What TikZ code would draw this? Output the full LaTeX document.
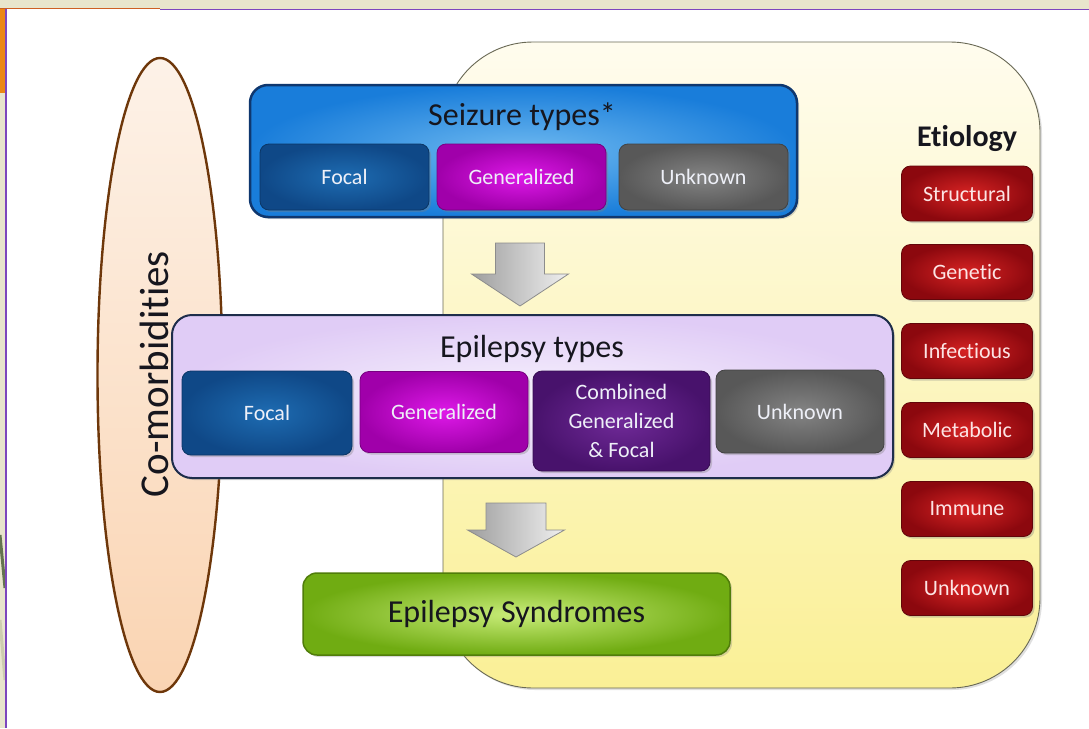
\documentclass[tikz,border=0pt]{standalone}
\usepackage{fontspec}
\setmainfont{Carlito}[Ligatures=NoCommon]
\usetikzlibrary{shapes.geometric,shadows}

% palette
\definecolor{framebar}{RGB}{232,229,204}
\definecolor{framepurple}{RGB}{125,70,190}
\definecolor{framerust}{RGB}{205,95,35}
\definecolor{frameorange}{RGB}{235,135,20}
\definecolor{streakdark}{RGB}{100,115,80}
\definecolor{streaklight}{RGB}{205,205,175}
\definecolor{paneltop}{RGB}{255,252,238}
\definecolor{panelbot}{RGB}{250,240,150}
\definecolor{panelline}{RGB}{105,105,85}
\definecolor{peachtop}{RGB}{253,242,232}
\definecolor{peachmid}{RGB}{245,188,140}
\definecolor{peachbot}{RGB}{250,212,178}
\definecolor{peachline}{RGB}{110,55,10}
\definecolor{blueout}{RGB}{25,125,218}
\definecolor{bluein}{RGB}{110,185,240}
\definecolor{blueline}{RGB}{15,55,110}
\definecolor{lavout}{RGB}{224,204,246}
\definecolor{lavin}{RGB}{247,242,253}
\definecolor{lavline}{RGB}{30,45,75}
\definecolor{focalout}{RGB}{15,72,135}
\definecolor{focalin}{RGB}{30,108,178}
\definecolor{genout}{RGB}{160,0,170}
\definecolor{genin}{RGB}{222,25,232}
\definecolor{unkout}{RGB}{88,88,88}
\definecolor{unkin}{RGB}{132,132,132}
\definecolor{combout}{RGB}{72,18,108}
\definecolor{combin}{RGB}{112,42,152}
\definecolor{redout}{RGB}{140,8,14}
\definecolor{redin}{RGB}{215,35,35}
\definecolor{greenout}{RGB}{112,172,18}
\definecolor{greenin}{RGB}{200,236,120}
\definecolor{greenline}{RGB}{80,125,10}
\definecolor{boxtext}{RGB}{238,240,248}
\definecolor{redtext}{RGB}{252,228,228}
\definecolor{inktext}{RGB}{22,22,30}

\tikzset{
  headfont/.style={font=\fontsize{32}{38}\selectfont, text=inktext},
  subbox/.style={rounded corners=9pt, inner sep=0pt, align=center,
    font=\fontsize{22}{29}\selectfont, text=boxtext, line width=0.8pt,
    drop shadow={opacity=0.35, shadow xshift=2pt, shadow yshift=-2pt}},
  focalbox/.style={subbox, inner color=focalin, outer color=focalout, draw=focalout!75!black},
  genbox/.style={subbox, inner color=genin, outer color=genout, draw=genout!75!black},
  unkbox/.style={subbox, inner color=unkin, outer color=unkout, draw=unkout!75!black},
  combbox/.style={subbox, inner color=combin, outer color=combout, draw=combout!75!black},
  etiobox/.style={subbox, minimum width=131, minimum height=55, text=redtext,
    inner color=redin, outer color=redout, draw=redout!70!black},
  arrowstyle/.style={left color=black!38, right color=black!6, draw=black!45, line width=0.8pt},
  pics/blockdown/.style n args={4}{code={
    \path[arrowstyle] (-#1,0) -- (#1,0) -- (#1,#3) -- (#2,#3) -- (0,#4)
      -- (-#2,#3) -- (-#1,#3) -- cycle;}},
}

\begin{document}
\begin{tikzpicture}[x=1pt,y=-1pt]
\useasboundingbox (0,0) rectangle (1089,728);
\fill[white] (0,0) rectangle (1089,728);

% slide frame
\fill[framebar] (0,0) rectangle (1089,9);
\fill[framebar] (0,9) rectangle (5,728);
\fill[frameorange] (0,9) rectangle (5,93);
\draw[streakdark, line width=3pt] (0,535) -- (5,588);
\draw[streaklight, line width=3pt] (0,620) -- (5,680);
\draw[framerust, line width=1.5pt] (0,8.7) -- (160,8.7);
\draw[framepurple, line width=1.6pt] (160,9.3) -- (1089,9.3);
\draw[framepurple, line width=1.6pt] (5.8,9) -- (5.8,728);

% etiology panel
\node[rounded corners=90pt, minimum width=597, minimum height=646, inner sep=0pt,
      top color=paneltop, bottom color=panelbot, draw=panelline, line width=0.9pt,
      drop shadow={opacity=0.25, shadow xshift=2pt, shadow yshift=-2pt}]
      (panel) at (741.5,365) {};

% co-morbidities
\node[ellipse, minimum width=125, minimum height=634, inner sep=0pt,
      top color=peachtop, middle color=peachmid, bottom color=peachbot,
      draw=peachline, line width=2.4pt] (comorb) at (160,375) {};
\node[rotate=90, font=\fontsize{41}{47}\selectfont, text=inktext] (comorbtext) at (154,374) {Co-morbidities};

% seizure types
\node[rounded corners=18pt, minimum width=547, minimum height=132, inner sep=0pt,
      inner color=bluein, outer color=blueout, draw=blueline, line width=2.5pt,
      drop shadow={opacity=0.3, shadow xshift=2pt, shadow yshift=-2pt}]
      (seizure) at (523.5,151) {};
\node[headfont] (seizuretitle) at (522,117) {Seizure types*};
\node[focalbox, minimum width=169, minimum height=66] (sfocal) at (344.5,177) {Focal};
\node[genbox, minimum width=169, minimum height=66] (sgen) at (521.5,177) {Generalized};
\node[unkbox, minimum width=169, minimum height=66] (sunk) at (703.5,177) {Unknown};

% epilepsy types
\node[rounded corners=20pt, minimum width=721, minimum height=163, inner sep=0pt,
      inner color=lavin, outer color=lavout, draw=lavline, line width=2pt,
      drop shadow={opacity=0.3, shadow xshift=2pt, shadow yshift=-2pt}]
      (epilepsy) at (532.5,396.5) {};
\node[headfont] (epilepsytitle) at (532,349) {Epilepsy types};
\node[focalbox, minimum width=170, minimum height=84] (efocal) at (267,413) {Focal};
\node[genbox, minimum width=168, minimum height=81] (egen) at (444,412) {Generalized};
\node[combbox, minimum width=177, minimum height=100] (ecomb) at (621.5,421) {Combined\\Generalized\\\& Focal};
\node[unkbox, minimum width=168, minimum height=83] (eunk) at (800,411.5) {Unknown};

% flow arrows
\pic at (520,243) {blockdown={24.5}{48.5}{31}{63}};
\pic at (516,503) {blockdown={30}{48.5}{27}{54}};

% syndromes
\node[rounded corners=14pt, minimum width=427, minimum height=82, inner sep=0pt,
      inner color=greenin, outer color=greenout, draw=greenline, line width=1.5pt,
      headfont, drop shadow={opacity=0.3, shadow xshift=2pt, shadow yshift=-2pt}]
      (syndromes) at (516.5,614) {Epilepsy Syndromes};

% etiology
\node[font=\bfseries\fontsize{30}{35}\selectfont, text=inktext] (etiology) at (967,139) {Etiology};
\node[etiobox] (structural) at (967,193.5) {Structural};
\node[etiobox] (genetic) at (967,272) {Genetic};
\node[etiobox] (infectious) at (967,351) {Infectious};
\node[etiobox] (metabolic) at (967,430) {Metabolic};
\node[etiobox] (immune) at (967,509) {Immune};
\node[etiobox] (unknownetio) at (967,588) {Unknown};
\end{tikzpicture}
\end{document}
